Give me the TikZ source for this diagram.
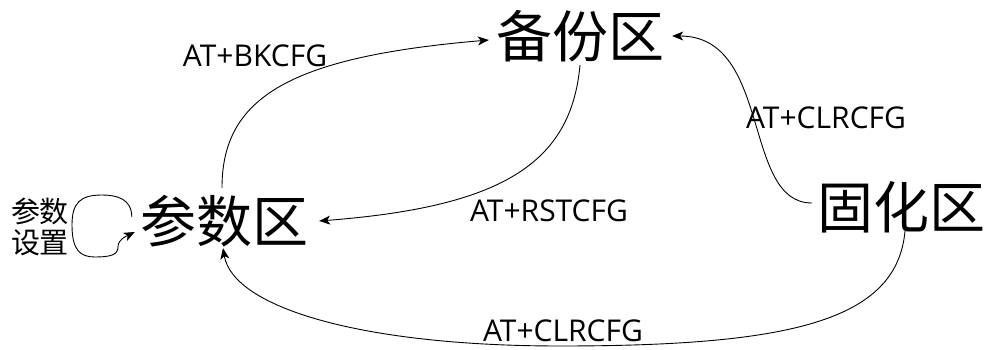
\documentclass[tikz,border=0pt]{standalone}
\usepackage{fontspec}
\setmainfont{Noto Sans CJK SC}
\newfontfamily\latinfont{Open Sans}
\usetikzlibrary{arrows.meta}
\begin{document}
\begin{tikzpicture}[x=1pt,y=1pt,
  zone/.style={font=\fontsize{56}{60}\selectfont, inner sep=3pt},
  cmd/.style={font=\latinfont\fontsize{30}{32}\selectfont, inner sep=0pt},
  small/.style={font=\fontsize{29}{31}\selectfont, align=center, inner sep=0pt},
  link/.style={line width=0.9pt, -{Stealth[length=11pt,width=9pt,inset=3pt]}}]
\useasboundingbox (0,0) rectangle (986,349);
% nodes
\node[zone] (bf) at (580,313) {备份区};
\node[zone] (cs) at (224,128) {参数区};
\node[zone] (gh) at (901,142) {固化区};
\node[small] (sz) at (40,122) {参数\\设置};
% labels
\node[cmd] (l1) at (255,293) {AT+BKCFG};
\node[cmd] (l2) at (549,138) {AT+RSTCFG};
\node[cmd] (l3) at (826,231) {AT+CLRCFG};
\node[cmd] (l4) at (563,18) {AT+CLRCFG};
\coordinate (bot) at (560,3);
% connectors
\draw[link] ([shift={(-2pt,4pt)}]cs.north) .. controls +(0,90) and +(-200,-17) .. ([shift={(-4pt,-4pt)}]bf.west);
\draw[link] (bf.south) .. controls +(-9,-100) and +(180,14) .. ([xshift=8pt]cs.east);
\draw[link] ([shift={(-2pt,4pt)}]gh.west) .. controls +(-70,0) and +(100,0) .. ([xshift=5pt]bf.east);
\draw[link] ([shift={(4pt,5pt)}]gh.south) .. controls +(-8,-90) and +(230,0) .. (bot)
  .. controls +(-200,0) and +(10,-59) .. ([shift={(-1pt,2pt)}]cs.south);
\draw[link] ([shift={(-5pt,4pt)}]cs.west) .. controls +(0,18) and +(15,0) .. (102,154)
  .. controls +(-22,0) and +(0,22) .. (72,124)
  .. controls +(0,-25) and +(-15,0) .. (95,92)
  .. controls +(15,0) and +(0,-8) .. (118,102)
  .. controls +(0,8) and +(-8,-4) .. ([shift={(-2pt,-11pt)}]cs.west);
\end{tikzpicture}
\end{document}
